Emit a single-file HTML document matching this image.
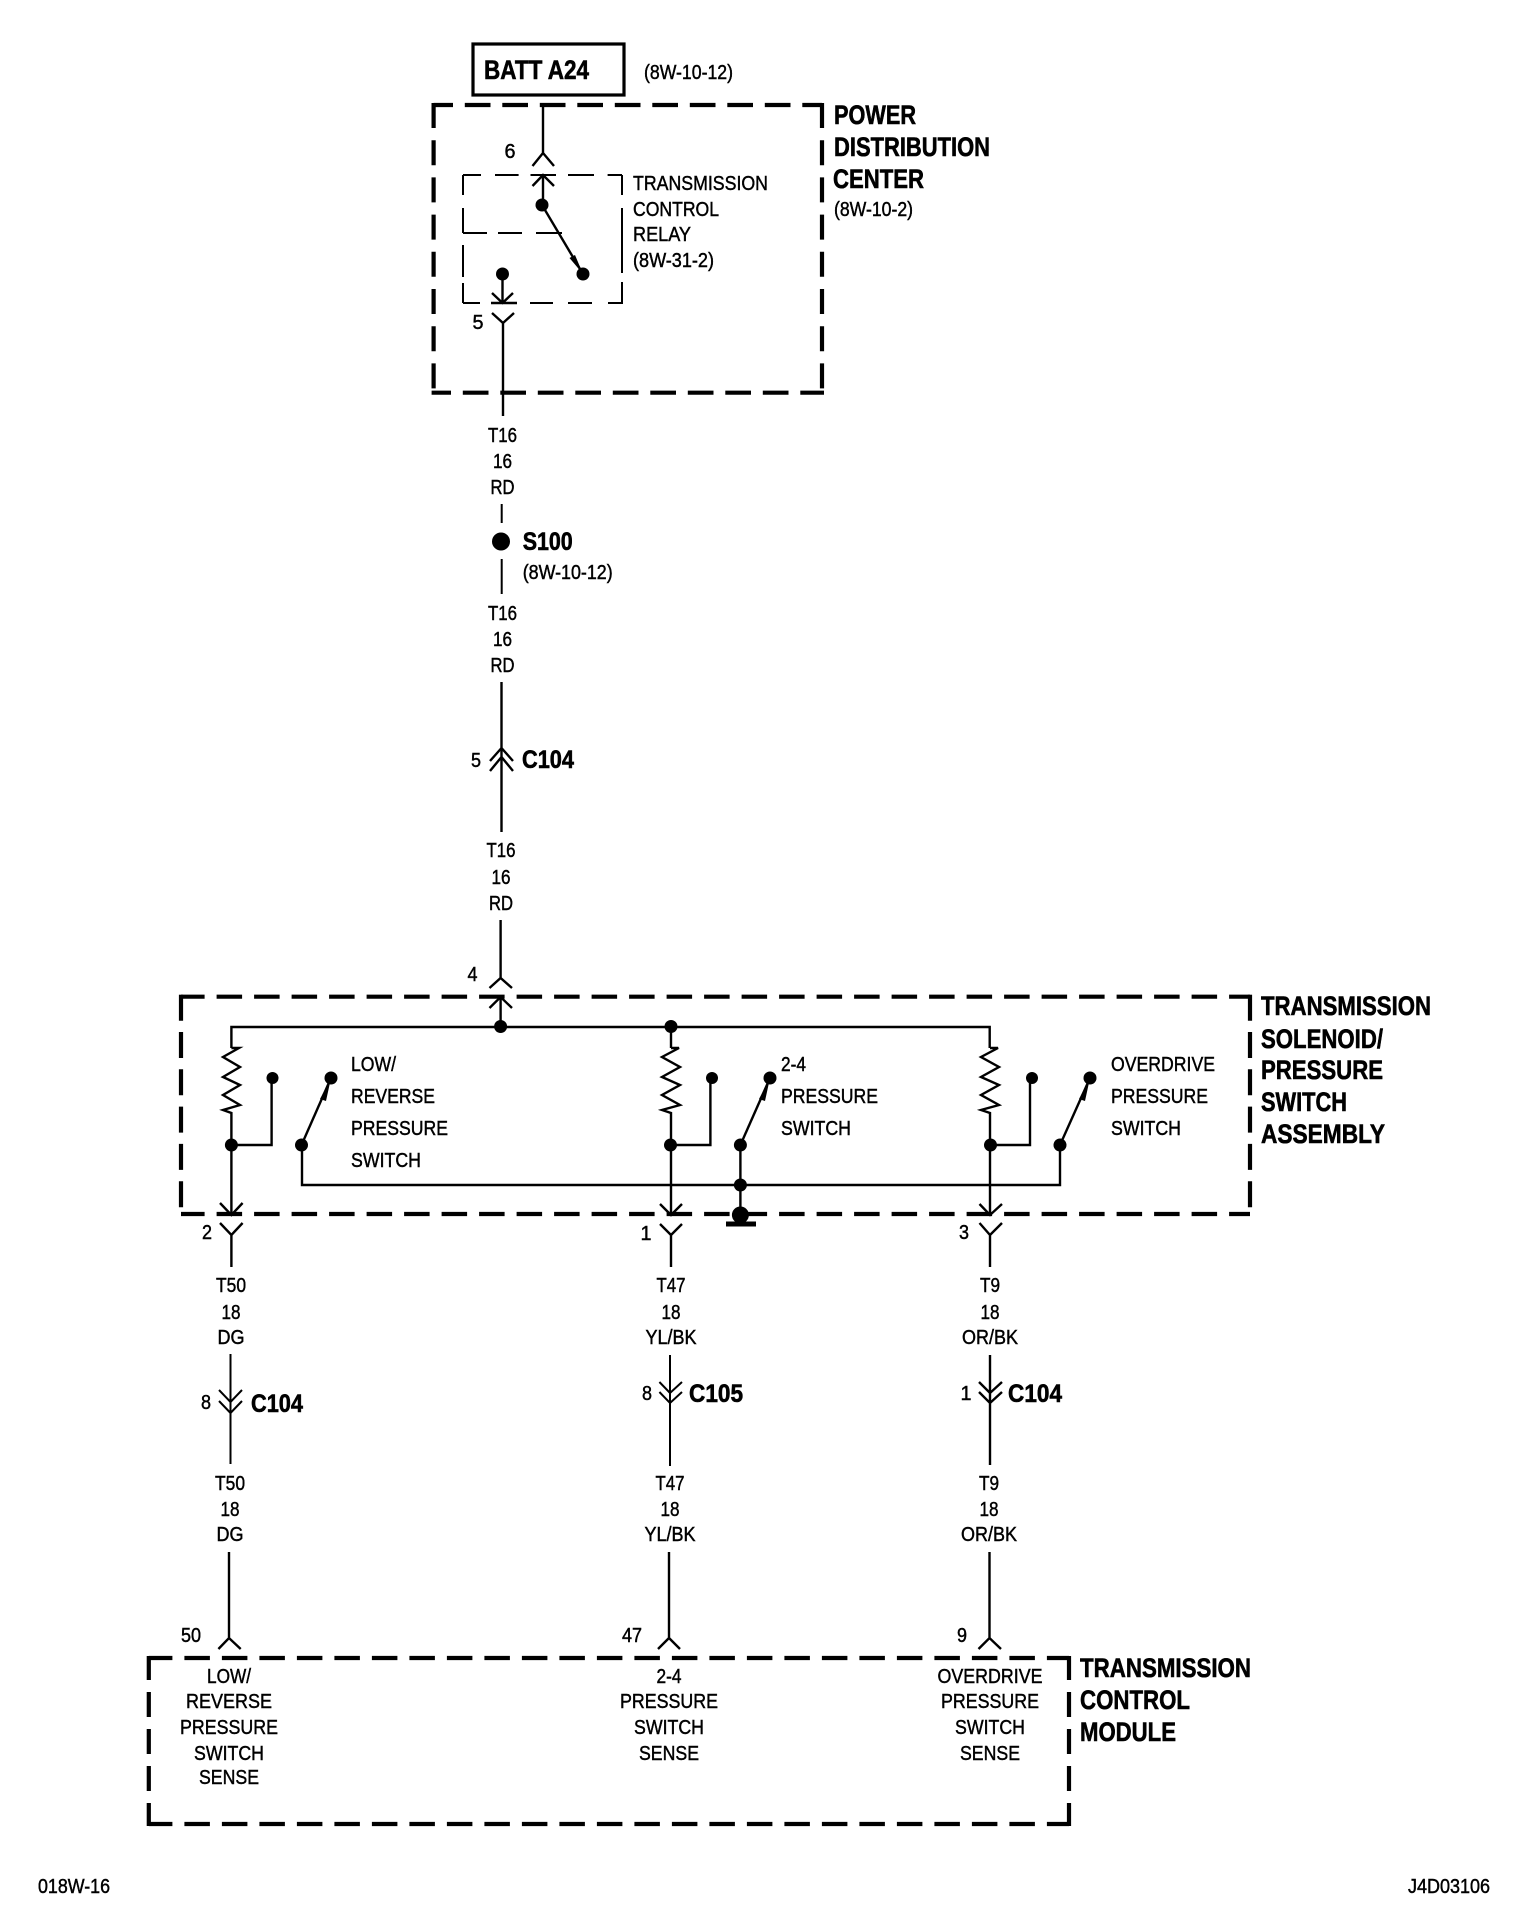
<!DOCTYPE html>
<html>
<head>
<meta charset="utf-8">
<style>
html,body{margin:0;padding:0;background:#fff}
svg{display:block}
text{font-family:"Liberation Sans",Arial,sans-serif;fill:#000}
.r{font-size:20px;stroke:#000;stroke-width:.45}
.m{font-size:20px;stroke:#000;stroke-width:.45;text-anchor:middle}
.b{font-size:27px;font-weight:bold;stroke:#000;stroke-width:.6}
.w{fill:none;stroke:#000;stroke-width:2.4}
.t{fill:none;stroke:#000;stroke-width:2}
.d{fill:none;stroke:#000;stroke-width:4.2}
</style>
</head>
<body>
<svg width="1520" height="1932" viewBox="0 0 1520 1932" xmlns="http://www.w3.org/2000/svg">
<rect width="1520" height="1932" fill="#fff"/>

<!-- BATT -->
<rect x="473" y="44" width="151" height="51" fill="none" stroke="#000" stroke-width="3.2"/>
<text class="b" x="484" y="79" textLength="105" lengthAdjust="spacingAndGlyphs">BATT A24</text>
<text class="r" x="644" y="79" textLength="89" lengthAdjust="spacingAndGlyphs">(8W-10-12)</text>

<!-- PDC box -->
<line class="d" x1="433.6" y1="105" x2="822" y2="105" stroke-dasharray="25.7 11.8" stroke-dashoffset="6.3"/>
<line class="d" x1="431.6" y1="392.7" x2="824" y2="392.7" stroke-dasharray="25.7 11.8" stroke-dashoffset="6.3"/>
<line class="d" x1="433.6" y1="103" x2="433.6" y2="394.7" stroke-dasharray="25 12.2"/>
<line class="d" x1="822" y1="103" x2="822" y2="394.7" stroke-dasharray="25 12.2"/>
<text class="b" x="834" y="124" textLength="82" lengthAdjust="spacingAndGlyphs">POWER</text>
<text class="b" x="834" y="156" textLength="156" lengthAdjust="spacingAndGlyphs">DISTRIBUTION</text>
<text class="b" x="833" y="188" textLength="91" lengthAdjust="spacingAndGlyphs">CENTER</text>
<text class="r" x="834" y="216" textLength="79" lengthAdjust="spacingAndGlyphs">(8W-10-2)</text>

<!-- relay box -->
<path class="t" d="M463 175H481M495 175H518.6M530.5 175H556M568 175H594M607.6 175H622
M463 175V195M463 208V233M463 245V277M463 283V303
M622 175V195M622 208V273M622 282V303
M463 303H480M492 303H517M530 303H553M568 303H592M608 303H623
M463 233H487M498 233H522M536 233H562"/>
<text class="r" x="633" y="190" textLength="135" lengthAdjust="spacingAndGlyphs">TRANSMISSION</text>
<text class="r" x="633" y="216" textLength="86" lengthAdjust="spacingAndGlyphs">CONTROL</text>
<text class="r" x="633" y="241" textLength="58" lengthAdjust="spacingAndGlyphs">RELAY</text>
<text class="r" x="633" y="267" textLength="81" lengthAdjust="spacingAndGlyphs">(8W-31-2)</text>

<!-- relay internals -->
<path class="w" d="M543 105V153M532.5 166L543 153L554 166M532.5 186L543 175L554 186M543 175V205"/>
<circle cx="542" cy="205" r="6.5"/>
<line class="w" x1="542" y1="205" x2="583" y2="274"/>
<polygon points="583,274 569.5,258 575,255"/>
<circle cx="583" cy="274" r="6.5"/>
<circle cx="502.5" cy="274" r="6.5"/>
<path class="w" d="M502.5 274V303M492 293L502.5 303L513 293M491 303H517"/>
<path class="w" d="M492 313L503 323L514 313M503 323V416"/>
<text class="m" x="510" y="158" textLength="11" lengthAdjust="spacingAndGlyphs">6</text>
<text class="m" x="478" y="329" textLength="11" lengthAdjust="spacingAndGlyphs">5</text>

<!-- T16 section -->
<text class="m" x="502.5" y="442" textLength="29" lengthAdjust="spacingAndGlyphs">T16</text>
<text class="m" x="502.5" y="468" textLength="19" lengthAdjust="spacingAndGlyphs">16</text>
<text class="m" x="502.5" y="494" textLength="24" lengthAdjust="spacingAndGlyphs">RD</text>
<line class="t" x1="501.7" y1="504" x2="501.7" y2="523"/>
<circle cx="501" cy="541.5" r="9"/>
<text class="b" style="font-size:25px" x="522.7" y="550" textLength="50" lengthAdjust="spacingAndGlyphs">S100</text>
<text class="r" x="522.7" y="579" textLength="90" lengthAdjust="spacingAndGlyphs">(8W-10-12)</text>
<line class="t" x1="501.7" y1="559" x2="501.7" y2="594"/>
<text class="m" x="502.5" y="620" textLength="29" lengthAdjust="spacingAndGlyphs">T16</text>
<text class="m" x="502.5" y="646" textLength="19" lengthAdjust="spacingAndGlyphs">16</text>
<text class="m" x="502.5" y="672" textLength="24" lengthAdjust="spacingAndGlyphs">RD</text>
<path class="w" d="M501.5 682V832M490 761L501.5 748L513 761M490 771L501.5 757L513 771"/>
<text class="m" x="476" y="767" textLength="10" lengthAdjust="spacingAndGlyphs">5</text>
<text class="b" style="font-size:25px" x="522" y="768" textLength="52" lengthAdjust="spacingAndGlyphs">C104</text>
<text class="m" x="501" y="857" textLength="29" lengthAdjust="spacingAndGlyphs">T16</text>
<text class="m" x="501" y="884" textLength="19" lengthAdjust="spacingAndGlyphs">16</text>
<text class="m" x="501" y="910" textLength="24" lengthAdjust="spacingAndGlyphs">RD</text>

<!-- connector 4 -->
<path class="w" d="M500.6 920V978M489.5 988L500.6 978L512 988M489.5 1008L500.6 997L512 1008M500.6 997V1027"/>
<text class="m" x="472.5" y="981" textLength="10" lengthAdjust="spacingAndGlyphs">4</text>

<!-- TSA box -->
<line class="d" x1="181" y1="996.7" x2="1250" y2="996.7" stroke-dasharray="25.5 12" stroke-dashoffset="1.9"/>
<line class="d" x1="181" y1="1214" x2="1250" y2="1214" stroke-dasharray="25.5 12" stroke-dashoffset="1.9"/>
<line class="d" x1="181" y1="994.7" x2="181" y2="1216" stroke-dasharray="26 11.3"/>
<line class="d" x1="1250" y1="994.7" x2="1250" y2="1216" stroke-dasharray="26 11.3"/>
<text class="b" x="1261" y="1015" textLength="170" lengthAdjust="spacingAndGlyphs">TRANSMISSION</text>
<text class="b" x="1261" y="1048" textLength="122" lengthAdjust="spacingAndGlyphs">SOLENOID/</text>
<text class="b" x="1261" y="1079" textLength="122" lengthAdjust="spacingAndGlyphs">PRESSURE</text>
<text class="b" x="1261" y="1111" textLength="86" lengthAdjust="spacingAndGlyphs">SWITCH</text>
<text class="b" x="1261" y="1143" textLength="124" lengthAdjust="spacingAndGlyphs">ASSEMBLY</text>

<!-- bus -->
<path class="w" d="M231.4 1048V1027H989.7V1048"/>
<circle cx="500.6" cy="1026.5" r="6.5"/>
<circle cx="671" cy="1026.5" r="6.5"/>
<line class="w" x1="671" y1="1027" x2="671" y2="1048"/>

<!-- resistors + branches -->
<path class="w" id="r1" d="M231.4 1048L239 1048L223 1057L240 1067L223 1077L240 1085L223 1095L240 1105L223 1110L231.4 1113V1215"/>
<path class="w" d="M671 1048L679 1048L662 1057L680 1067L662 1077L680 1085L662 1095L680 1105L662 1110L671 1113V1215"/>
<path class="w" d="M990 1048L998 1048L981 1057L999 1067L981 1077L999 1085L981 1095L999 1105L981 1110L990 1113V1215"/>
<circle cx="231.4" cy="1145" r="6.5"/>
<circle cx="670.5" cy="1145" r="6.5"/>
<circle cx="990.5" cy="1145" r="6.5"/>
<path class="w" d="M231.4 1145H271.6V1078"/>
<path class="w" d="M670.5 1145H710.4V1078"/>
<path class="w" d="M990.5 1145H1030V1078"/>
<circle cx="272.5" cy="1078" r="6"/>
<circle cx="712" cy="1078" r="6"/>
<circle cx="1032" cy="1078" r="6"/>

<!-- switches -->
<line class="w" x1="301.5" y1="1145" x2="331" y2="1078"/>
<polygon points="331,1078 320,1099 326,1101"/>
<circle cx="301.5" cy="1145" r="6.5"/>
<circle cx="331" cy="1078" r="6.5"/>
<line class="w" x1="740.4" y1="1145" x2="770" y2="1078"/>
<polygon points="770,1078 759,1099 765,1101"/>
<circle cx="740.4" cy="1145" r="6.5"/>
<circle cx="770" cy="1078" r="6.5"/>
<line class="w" x1="1060" y1="1145" x2="1090" y2="1078"/>
<polygon points="1090,1078 1079,1099 1085,1101"/>
<circle cx="1060" cy="1145" r="6.5"/>
<circle cx="1090" cy="1078" r="6.5"/>
<path class="w" d="M302 1145V1185H1060V1145"/>
<line class="w" x1="740.4" y1="1145" x2="740.4" y2="1215"/>
<circle cx="740.4" cy="1185" r="6.5"/>
<circle cx="740.4" cy="1215" r="8.5"/>
<rect x="726" y="1221.5" width="30" height="5"/>

<!-- chevrons at bottom of TSA -->
<path class="w" d="M220 1203L231.4 1215L242.6 1203M220 1223L231.4 1235L242.6 1223M231.4 1235V1267"/>
<path class="w" d="M660 1204L671 1215L682 1204M660 1224L671 1235L682 1224M671 1235V1267"/>
<path class="w" d="M979.5 1204L990 1215L1002 1204M979.5 1223L990 1235L1002 1223M990 1235V1267"/>
<text class="m" x="207" y="1239" textLength="10" lengthAdjust="spacingAndGlyphs">2</text>
<text class="m" x="646" y="1240" textLength="11" lengthAdjust="spacingAndGlyphs">1</text>
<text class="m" x="964" y="1239" textLength="10" lengthAdjust="spacingAndGlyphs">3</text>

<!-- switch labels -->
<text class="r" x="351" y="1071" textLength="45" lengthAdjust="spacingAndGlyphs">LOW/</text>
<text class="r" x="351" y="1103" textLength="84" lengthAdjust="spacingAndGlyphs">REVERSE</text>
<text class="r" x="351" y="1135" textLength="97" lengthAdjust="spacingAndGlyphs">PRESSURE</text>
<text class="r" x="351" y="1167" textLength="70" lengthAdjust="spacingAndGlyphs">SWITCH</text>
<text class="r" x="781" y="1071" textLength="25" lengthAdjust="spacingAndGlyphs">2-4</text>
<text class="r" x="781" y="1103" textLength="97" lengthAdjust="spacingAndGlyphs">PRESSURE</text>
<text class="r" x="781" y="1135" textLength="70" lengthAdjust="spacingAndGlyphs">SWITCH</text>
<text class="r" x="1111" y="1071" textLength="104" lengthAdjust="spacingAndGlyphs">OVERDRIVE</text>
<text class="r" x="1111" y="1103" textLength="97" lengthAdjust="spacingAndGlyphs">PRESSURE</text>
<text class="r" x="1111" y="1135" textLength="70" lengthAdjust="spacingAndGlyphs">SWITCH</text>

<!-- left wire -->
<text class="m" x="231" y="1292" textLength="30" lengthAdjust="spacingAndGlyphs">T50</text>
<text class="m" x="231" y="1319" textLength="19" lengthAdjust="spacingAndGlyphs">18</text>
<text class="m" x="231" y="1344" textLength="27" lengthAdjust="spacingAndGlyphs">DG</text>
<path class="t" d="M230.5 1354V1464M219 1390L230.5 1402L242 1390M219 1401L230.5 1413L242 1401"/>
<text class="m" x="206" y="1409" textLength="10" lengthAdjust="spacingAndGlyphs">8</text>
<text class="b" style="font-size:25px" x="251" y="1412" textLength="52" lengthAdjust="spacingAndGlyphs">C104</text>
<text class="m" x="230" y="1490" textLength="30" lengthAdjust="spacingAndGlyphs">T50</text>
<text class="m" x="230" y="1516" textLength="19" lengthAdjust="spacingAndGlyphs">18</text>
<text class="m" x="230" y="1541" textLength="27" lengthAdjust="spacingAndGlyphs">DG</text>
<path class="w" d="M229 1552V1638M218.4 1649L229 1638L240.7 1649"/>
<text class="m" x="191" y="1642" textLength="20" lengthAdjust="spacingAndGlyphs">50</text>

<!-- mid wire -->
<text class="m" x="671" y="1292" textLength="29" lengthAdjust="spacingAndGlyphs">T47</text>
<text class="m" x="671" y="1319" textLength="19" lengthAdjust="spacingAndGlyphs">18</text>
<text class="m" x="671" y="1344" textLength="51" lengthAdjust="spacingAndGlyphs">YL/BK</text>
<path class="t" d="M670 1355V1466M659.4 1382L670 1393L682 1382M659.4 1392L670 1403L682 1392"/>
<text class="m" x="647" y="1400" textLength="10" lengthAdjust="spacingAndGlyphs">8</text>
<text class="b" style="font-size:25px" x="689" y="1402" textLength="54" lengthAdjust="spacingAndGlyphs">C105</text>
<text class="m" x="670" y="1490" textLength="29" lengthAdjust="spacingAndGlyphs">T47</text>
<text class="m" x="670" y="1516" textLength="19" lengthAdjust="spacingAndGlyphs">18</text>
<text class="m" x="670" y="1541" textLength="51" lengthAdjust="spacingAndGlyphs">YL/BK</text>
<path class="w" d="M669 1552V1638M658 1649L669 1638L680 1649"/>
<text class="m" x="632" y="1642" textLength="20" lengthAdjust="spacingAndGlyphs">47</text>

<!-- right wire -->
<text class="m" x="990" y="1292" textLength="20" lengthAdjust="spacingAndGlyphs">T9</text>
<text class="m" x="990" y="1319" textLength="19" lengthAdjust="spacingAndGlyphs">18</text>
<text class="m" x="990" y="1344" textLength="56" lengthAdjust="spacingAndGlyphs">OR/BK</text>
<path class="w" d="M990 1355V1465M979 1382L990 1393L1002 1382M979 1392L990 1403L1002 1392"/>
<text class="m" x="966" y="1400" textLength="11" lengthAdjust="spacingAndGlyphs">1</text>
<text class="b" style="font-size:25px" x="1008" y="1402" textLength="54" lengthAdjust="spacingAndGlyphs">C104</text>
<text class="m" x="989" y="1490" textLength="20" lengthAdjust="spacingAndGlyphs">T9</text>
<text class="m" x="989" y="1516" textLength="19" lengthAdjust="spacingAndGlyphs">18</text>
<text class="m" x="989" y="1541" textLength="56" lengthAdjust="spacingAndGlyphs">OR/BK</text>
<path class="w" d="M989.5 1552V1638M978.5 1649L989.5 1638L1001 1649"/>
<text class="m" x="962" y="1642" textLength="10" lengthAdjust="spacingAndGlyphs">9</text>

<!-- TCM box -->
<line class="d" x1="148.8" y1="1658" x2="1069" y2="1658" stroke-dasharray="25.5 12" stroke-dashoffset="1.9"/>
<line class="d" x1="148.8" y1="1824" x2="1069" y2="1824" stroke-dasharray="25.5 12" stroke-dashoffset="1.9"/>
<line class="d" x1="148.8" y1="1656" x2="148.8" y2="1826" stroke-dasharray="25 12" stroke-dashoffset="1"/>
<line class="d" x1="1069" y1="1656" x2="1069" y2="1826" stroke-dasharray="25 12" stroke-dashoffset="1"/>
<text class="b" x="1080" y="1677" textLength="171" lengthAdjust="spacingAndGlyphs">TRANSMISSION</text>
<text class="b" x="1080" y="1709" textLength="110" lengthAdjust="spacingAndGlyphs">CONTROL</text>
<text class="b" x="1080" y="1741" textLength="96" lengthAdjust="spacingAndGlyphs">MODULE</text>

<text class="m" x="229" y="1683" textLength="44" lengthAdjust="spacingAndGlyphs">LOW/</text>
<text class="m" x="229" y="1708" textLength="86" lengthAdjust="spacingAndGlyphs">REVERSE</text>
<text class="m" x="229" y="1734" textLength="98" lengthAdjust="spacingAndGlyphs">PRESSURE</text>
<text class="m" x="229" y="1760" textLength="70" lengthAdjust="spacingAndGlyphs">SWITCH</text>
<text class="m" x="229" y="1784" textLength="60" lengthAdjust="spacingAndGlyphs">SENSE</text>

<text class="m" x="669" y="1683" textLength="25" lengthAdjust="spacingAndGlyphs">2-4</text>
<text class="m" x="669" y="1708" textLength="98" lengthAdjust="spacingAndGlyphs">PRESSURE</text>
<text class="m" x="669" y="1734" textLength="70" lengthAdjust="spacingAndGlyphs">SWITCH</text>
<text class="m" x="669" y="1760" textLength="60" lengthAdjust="spacingAndGlyphs">SENSE</text>

<text class="m" x="990" y="1683" textLength="105" lengthAdjust="spacingAndGlyphs">OVERDRIVE</text>
<text class="m" x="990" y="1708" textLength="98" lengthAdjust="spacingAndGlyphs">PRESSURE</text>
<text class="m" x="990" y="1734" textLength="70" lengthAdjust="spacingAndGlyphs">SWITCH</text>
<text class="m" x="990" y="1760" textLength="60" lengthAdjust="spacingAndGlyphs">SENSE</text>

<!-- footer -->
<text class="r" x="38" y="1893" textLength="72" lengthAdjust="spacingAndGlyphs">018W-16</text>
<text class="r" x="1408" y="1893" textLength="82" lengthAdjust="spacingAndGlyphs">J4D03106</text>
</svg>
</body>
</html>
